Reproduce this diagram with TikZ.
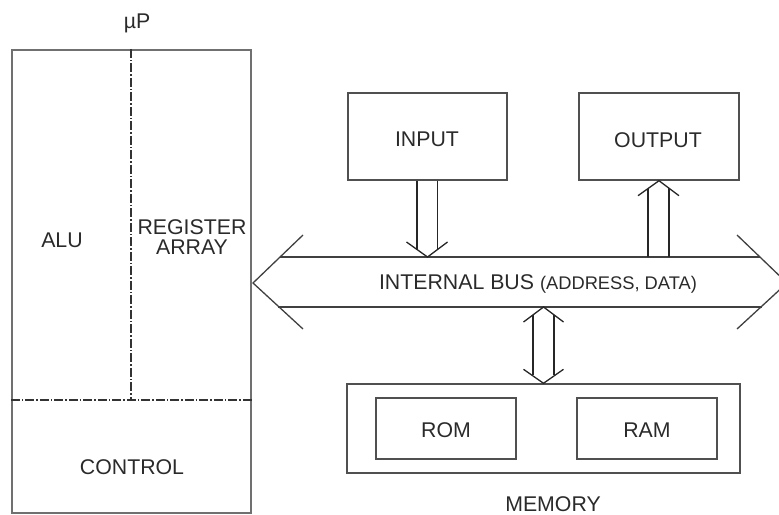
\documentclass[tikz,border=0pt]{standalone}
\usepackage{fontspec}
\setmainfont{Liberation Sans}
\usetikzlibrary{calc}
\definecolor{txt}{HTML}{2a2a2a}
\definecolor{edge}{HTML}{505050}
\definecolor{pedge}{HTML}{707070}
\begin{document}
\begin{tikzpicture}[x=1bp,y=-1bp,
  lbl/.style={text=txt,font=\fontsize{21.3bp}{20bp}\selectfont,inner sep=0pt,align=center},
  box/.style={draw=edge,line width=1.4bp,inner sep=0pt},
  bigbox/.style={draw=pedge,line width=2.2bp,inner sep=0pt},
  ln/.style={draw=black!85,line width=1.3bp},
  busln/.style={draw=black!75,line width=1.3bp},
  divider/.style={draw=black!80,line width=1.2bp,dash pattern=on 9bp off 2bp on 1.5bp off 2bp}]
\useasboundingbox (0,0) rectangle (779,515);

% microprocessor
\node[bigbox,minimum width=239bp,minimum height=463bp] (up) at (131.5,281.5) {};
\coordinate (split) at (131,400);
\draw[divider] (split |- up.north) -- (split);
\draw[divider] (split -| up.west) -- (split -| up.east);
\node[lbl] (uplbl) at (137,23) {µP};
\node[lbl] (alu) at (62,240) {ALU};
\node[lbl] (reg) at (192,237) {REGISTER\\ARRAY};
\node[lbl] (ctrl) at (132,467) {CONTROL};

% input / output
\node[box,minimum width=159bp,minimum height=87bp] (in) at (427.5,136.5) {};
\node[lbl] (inlbl) at (427,139) {INPUT};
\node[box,minimum width=160bp,minimum height=87bp] (out) at (659,136.5) {};
\node[lbl] (outlbl) at (658,140) {OUTPUT};

% memory
\node[box,minimum width=393bp,minimum height=89bp] (mem) at (543.5,428.5) {};
\node[box,minimum width=140bp,minimum height=61bp] (rom) at (446,428.5) {};
\node[lbl] (romlbl) at (446,430) {ROM};
\node[box,minimum width=140bp,minimum height=61bp] (ram) at (647,428.5) {};
\node[lbl] (ramlbl) at (647,430) {RAM};
\node[lbl] (memlbl) at (553,504) {MEMORY};

% internal bus
\coordinate (bl) at (253,283);
\coordinate (br) at (787,283);
\coordinate (bustop) at (0,257);
\coordinate (busbot) at (0,307);
\draw[busln] ($(bl)+(50,-48)$) -- (bl) -- ($(bl)+(50,46)$);
\draw[busln] ($(br)+(-50,-48)$) -- (br) -- ($(br)+(-50,46)$);
\draw[busln] ($(bl)+(27,-26)$) -- ($(br)+(-27,-26)$);
\draw[busln] ($(bl)+(25,24)$) -- ($(br)+(-25,24)$);
\node[lbl] (bus) at (538,284) {INTERNAL BUS \fontsize{18.3bp}{20bp}\selectfont(ADDRESS, DATA)};

% input -> bus
\coordinate (ti) at (in.south |- bustop);
\draw[ln,line width=2bp] ($(in.south)+(-11,0)$) -- ($(ti)+(-11,-8)$);
\draw[ln] ($(in.south)+(10,0)$) -- ($(ti)+(10,-7.5)$);
\draw[ln] ($(ti)+(-21,-15)$) -- (ti) -- ($(ti)+(20,-15)$);

% bus -> output
\coordinate (to) at (out.south);
\coordinate (tob) at (out.south |- bustop);
\draw[ln] ($(to)+(-11,8)$) -- ($(tob)+(-11,0)$);
\draw[ln] ($(to)+(10,7.5)$) -- ($(tob)+(10,0)$);
\draw[ln] ($(to)+(-21,15)$) -- (to) -- ($(to)+(20,15)$);

% bus <-> memory
\coordinate (tm1) at (mem.north |- busbot);
\coordinate (tm2) at (mem.north);
\draw[ln] ($(tm1)+(-10.5,8)$) -- ($(tm2)+(-10.5,-8)$);
\draw[ln] ($(tm1)+(10.5,8)$) -- ($(tm2)+(10.5,-8)$);
\draw[ln] ($(tm1)+(-20,15)$) -- (tm1) -- ($(tm1)+(20,15)$);
\draw[ln] ($(tm2)+(-20,-14)$) -- (tm2) -- ($(tm2)+(20,-14)$);
\end{tikzpicture}
\end{document}
